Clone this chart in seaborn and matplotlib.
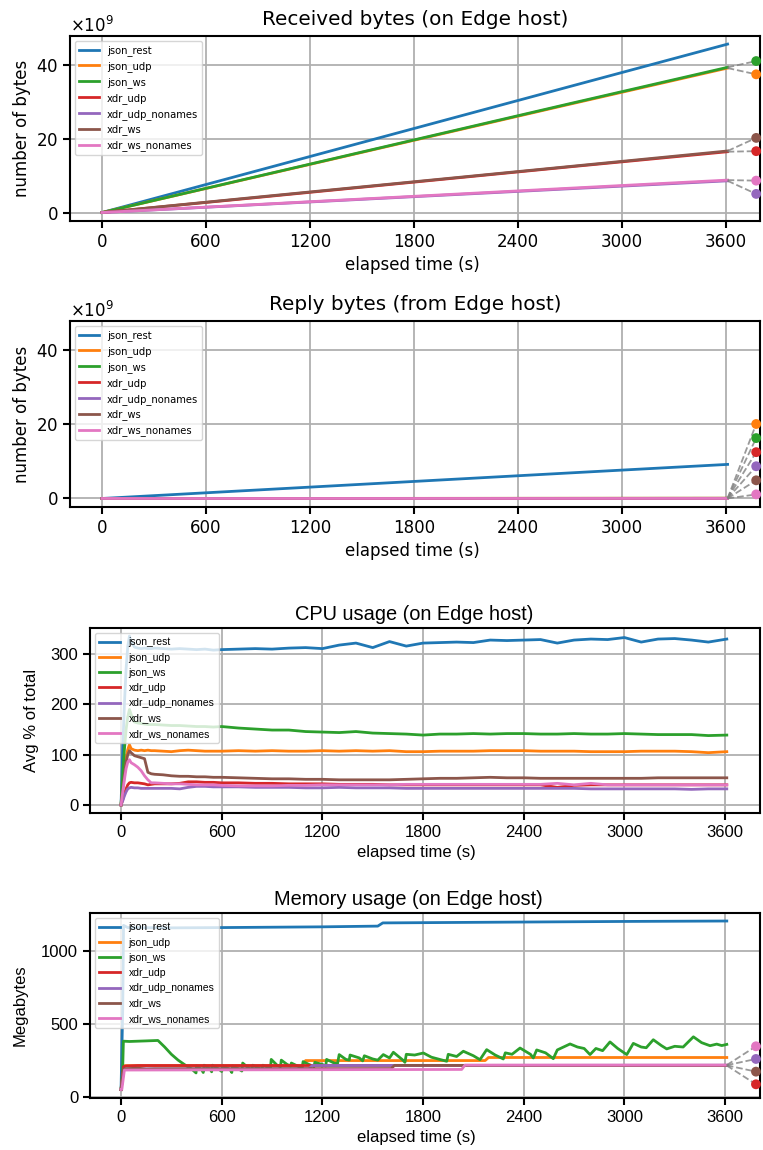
import numpy as np
import pandas as pd
import seaborn as sns
import matplotlib.pyplot as plt

# ---------------- data ----------------
SERIES = ['json_rest', 'json_udp', 'json_ws', 'xdr_udp',
          'xdr_udp_nonames', 'xdr_ws', 'xdr_ws_nonames']

# received / reply bytes (linear growth), sampled times
T_BYTES = [0, 900, 1800, 2700, 3610]
RECV = {
    'json_rest':       [0, 11.4e9, 22.8e9, 34.2e9, 45.7e9],
    'json_udp':        [0, 9.8e9, 19.6e9, 29.4e9, 39.2e9],
    'json_ws':         [0, 9.85e9, 19.7e9, 29.55e9, 39.4e9],
    'xdr_udp':         [0, 4.1e9, 8.25e9, 12.4e9, 16.5e9],
    'xdr_udp_nonames': [0, 2.15e9, 4.3e9, 6.45e9, 8.6e9],
    'xdr_ws':          [0, 4.2e9, 8.35e9, 12.5e9, 16.7e9],
    'xdr_ws_nonames':  [0, 2.2e9, 4.4e9, 6.6e9, 8.8e9],
}
REPLY = {
    'json_rest':       [0, 2.3e9, 4.6e9, 6.9e9, 9.2e9],
    'json_udp':        [0, 0.015e9, 0.03e9, 0.045e9, 0.06e9],
    'json_ws':         [0, 0.012e9, 0.025e9, 0.037e9, 0.05e9],
    'xdr_udp':         [0, 0.01e9, 0.02e9, 0.03e9, 0.04e9],
    'xdr_udp_nonames': [0, 0.008e9, 0.015e9, 0.022e9, 0.03e9],
    'xdr_ws':          [0, 0.005e9, 0.01e9, 0.015e9, 0.02e9],
    'xdr_ws_nonames':  [0, 0.002e9, 0.005e9, 0.007e9, 0.01e9],
}

T_CPU = [0, 10, 20, 30, 40, 50, 60, 80, 100, 120, 140, 160, 180, 200,
         250, 300, 350, 400, 450, 500, 550,
         600, 700, 800, 900, 1000, 1100, 1200, 1300, 1400, 1500, 1600,
         1700, 1800, 1900, 2000, 2100, 2200, 2300, 2400, 2500, 2600,
         2700, 2800, 2900, 3000, 3100, 3200, 3300, 3400, 3500, 3610]
CPU = {
    'json_rest': [0, 110, 200, 270, 315, 336, 325, 314, 312, 311, 312, 311, 311, 312,
                  311, 310, 311, 310, 309, 310, 308,
                  309, 310, 311, 310, 312, 313, 311, 318, 322, 313, 325,
                  316, 322, 323, 324, 323, 328, 327, 328, 329, 322,
                  328, 330, 329, 333, 324, 330, 331, 328, 324, 330],
    'json_udp': [0, 40, 70, 95, 110, 120, 112, 109, 108, 109, 108, 109, 108, 108,
                 107, 106, 108, 109, 108, 107, 107,
                 107, 108, 107, 108, 107, 107, 108, 107, 108, 107, 108,
                 106, 106, 107, 107, 107, 108, 108, 108, 107, 107,
                 107, 106, 106, 106, 107, 107, 107, 106, 104, 106],
    'json_ws': [0, 60, 110, 150, 175, 190, 180, 165, 163, 162, 161, 160, 160, 160,
                159, 158, 158, 157, 156, 156, 155,
                156, 153, 151, 149, 149, 146, 145, 144, 146, 143, 142,
                141, 139, 141, 141, 142, 141, 142, 142, 141, 141,
                142, 141, 141, 142, 141, 140, 140, 140, 138, 139],
    'xdr_udp': [0, 10, 22, 32, 40, 44, 45, 44, 44, 43, 42, 40, 41, 42,
                42, 42, 43, 46, 46, 45, 45,
                44, 44, 43, 43, 42, 42, 42, 41, 41, 41, 40,
                40, 40, 40, 40, 40, 40, 40, 40, 40, 35,
                39, 40, 40, 40, 40, 40, 40, 40, 40, 40],
    'xdr_udp_nonames': [0, 8, 18, 26, 32, 34, 35, 34, 34, 33, 33, 33, 33, 33,
                        33, 33, 32, 35, 37, 37, 36,
                        36, 36, 35, 35, 35, 34, 34, 35, 34, 34, 34,
                        33, 33, 33, 33, 33, 33, 33, 33, 33, 33,
                        33, 32, 32, 32, 32, 32, 32, 31, 32, 32],
    'xdr_ws': [0, 30, 60, 85, 100, 108, 104, 98, 96, 94, 92, 65, 62, 61,
               60, 58, 57, 57, 56, 56, 55,
               55, 54, 53, 52, 52, 51, 51, 50, 50, 50, 50,
               51, 52, 53, 53, 54, 55, 54, 54, 53, 53,
               53, 53, 53, 53, 53, 54, 54, 54, 54, 54],
    'xdr_ws_nonames': [0, 25, 50, 72, 85, 90, 84, 80, 75, 68, 58, 50, 44, 44,
                       43, 42, 42, 41, 40, 40, 40,
                       39, 38, 38, 38, 39, 39, 40, 40, 40, 40, 40,
                       41, 41, 41, 41, 41, 41, 41, 41, 41, 43,
                       40, 43, 40, 40, 40, 40, 40, 40, 40, 40],
}

# memory: each series has its own sample times (step changes)
MEM_T = {
    'json_rest': [0, 10, 15, 40, 300, 600, 1200, 1530, 1560, 2400, 3000, 3610],
    'json_udp': [0, 12, 20, 1080, 1100, 2170, 2190, 3610],
    'json_ws': [0, 10, 14, 50, 100, 150, 220, 260, 300, 340, 390, 420, 447, 450,
                480, 490, 495, 530, 540, 545, 580, 600, 605, 650, 660, 665, 700,
                720, 725, 760, 780, 785, 820, 840, 845, 880, 890, 895, 930, 950,
                955, 990, 1010, 1015, 1060, 1080, 1085, 1130, 1150, 1155, 1200,
                1220, 1225, 1270, 1290, 1300, 1340, 1360, 1365, 1420, 1440, 1450,
                1500, 1530, 1563, 1600, 1623, 1680, 1692, 1700, 1750, 1802, 1850,
                1941, 1950, 2000, 2040, 2100, 2139, 2179, 2230, 2278, 2290, 2330,
                2378, 2440, 2457, 2477, 2530, 2576, 2600, 2676, 2720, 2760, 2795,
                2830, 2870, 2914, 2960, 3014, 3053, 3100, 3130, 3172, 3220, 3252,
                3300, 3350, 3411, 3460, 3510, 3550, 3580, 3610],
    'xdr_udp': [0, 15, 30, 100, 3610],
    'xdr_udp_nonames': [0, 15, 30, 1120, 1140, 3610],
    'xdr_ws': [0, 15, 100, 150, 200, 1610, 1630, 3610],
    'xdr_ws_nonames': [0, 5, 20, 2030, 2050, 3610],
}
MEM = {
    'json_rest': [48, 600, 1175, 1160, 1158, 1160, 1165, 1170, 1192, 1198, 1202, 1205],
    'json_udp': [48, 150, 212, 212, 247, 247, 268, 268],
    'json_ws': [48, 200, 380, 378, 380, 382, 385, 340, 290, 250, 210, 190, 162, 210,
                185, 165, 215, 190, 170, 215, 190, 172, 212, 185, 165, 210, 190,
                175, 230, 195, 185, 215, 195, 185, 215, 200, 190, 255, 215, 205,
                250, 220, 210, 230, 205, 200, 240, 215, 205, 235, 220,
                210, 255, 230, 225, 288, 255, 250, 285, 265, 245, 280,
                258, 250, 288, 265, 304, 250, 235, 290, 285, 299, 270,
                242, 290, 275, 311, 280, 253, 322, 285, 258, 300, 290,
                333, 290, 265, 320, 300, 260, 320, 361, 340, 330, 288,
                330, 315, 375, 330, 288, 365, 340, 335, 390, 350, 327,
                345, 340, 410, 370, 349, 360, 350, 358],
    'xdr_udp': [48, 205, 210, 213, 213],
    'xdr_udp_nonames': [48, 180, 190, 190, 213, 215],
    'xdr_ws': [48, 190, 195, 188, 190, 192, 214, 214],
    'xdr_ws_nonames': [48, 50, 182, 186, 216, 216],
}


def long_df(times, values):
    rows = []
    for s in SERIES:
        t = times[s] if isinstance(times, dict) else times
        rows.append(pd.DataFrame({'time': t, 'value': values[s], 'series': s}))
    return pd.concat(rows, ignore_index=True)


def end_markers(ax, df, x_mark, gap, thresh, lo, sep, colors):
    # spread markers for line ends that overlap each other
    ends = df.sort_values('time').groupby('series').last()
    ends = ends.sort_values('value')
    names = list(ends.index)
    groups, cur = [], [names[0]]
    for a, b in zip(names[:-1], names[1:]):
        if ends.loc[b, 'value'] - ends.loc[a, 'value'] < thresh:
            cur.append(b)
        else:
            groups.append(cur)
            cur = [b]
    groups.append(cur)
    groups = [g for g in groups if len(g) > 1]
    placed = []
    for g in groups:
        center = ends.loc[g, 'value'].mean()
        pos = [center + (i - (len(g) - 1) / 2) * gap for i in range(len(g))]
        if pos[0] < lo:
            pos = [p + lo - pos[0] for p in pos]
        placed.append(pos)
    # keep neighbouring groups of markers apart
    for i in range(len(placed) - 1):
        over = sep - (placed[i + 1][0] - placed[i][-1])
        if over > 0:
            placed[i] = [p - over / 2 for p in placed[i]]
            placed[i + 1] = [p + over / 2 for p in placed[i + 1]]
    for g, pos in zip(groups, placed):
        for s, p in zip(g, pos):
            ax.plot([ends.loc[s, 'time'], x_mark], [ends.loc[s, 'value'], p],
                    ls='--', color='gray', lw=1.3, alpha=0.8, zorder=3)
            ax.scatter([x_mark], [p], s=50, color=colors[s], zorder=4,
                       clip_on=False, edgecolors='none')


# ---------------- plot ----------------
plt.rcParams['font.family'] = ['DejaVu Sans']
plt.rcParams['axes.linewidth'] = 1.5
plt.rcParams['xtick.major.width'] = 1.5
plt.rcParams['ytick.major.width'] = 1.5
plt.rcParams['xtick.major.size'] = 5
plt.rcParams['ytick.major.size'] = 5

palette = dict(zip(SERIES, sns.color_palette('tab10', len(SERIES))))
W, H = 763, 1150
fig = plt.figure(figsize=(W / 100, H / 100), dpi=100)


def make_ax(left, top, bottom, right=760):
    return fig.add_axes([left / W, 1 - bottom / H, (right - left) / W, (bottom - top) / H])


panels = [
    dict(df=long_df(T_BYTES, RECV), box=(70, 36, 221), title='Received bytes (on Edge host)',
         ylabel='number of bytes', font='DejaVu Sans', tsize=14.4, tx=0.5, tpad=8, lx=0.496,
         lpad=4, lsize=7.2, xlim=(-185, 3797), ylim=(-2.3e9, 47.9e9), sci=True,
         marks=dict(x=3775, gap=3.6e9, thresh=2e9, lo=-1e12, sep=8e9)),
    dict(df=long_df(T_BYTES, REPLY), box=(70, 321, 507), title='Reply bytes (from Edge host)',
         ylabel='number of bytes', font='DejaVu Sans', tsize=14.4, tx=0.5, tpad=8, lx=0.496,
         lpad=4, lsize=7.2, xlim=(-185, 3797), ylim=(-2.3e9, 47.9e9), sci=True,
         marks=dict(x=3775, gap=3.8e9, thresh=2e9, lo=1.1e9, sep=0)),
    dict(df=long_df(T_CPU, CPU), box=(90, 628, 813), title='CPU usage (on Edge host)',
         ylabel='Avg % of total', font='Liberation Sans', tsize=14.4, tx=0.484, tpad=6,
         lx=0.487, lpad=8, lsize=7.5, xlim=(-185, 3808), ylim=(-16, 352), sci=False,
         marks=None),
    dict(df=long_df(MEM_T, MEM), box=(90, 913, 1098), title='Memory usage (on Edge host)',
         ylabel='Megabytes', font='Liberation Sans', tsize=14.4, tx=0.475, tpad=6,
         lx=0.487, lpad=10, lsize=7.5, xlim=(-185, 3808), ylim=(-10, 1260), sci=False,
         marks=dict(x=3784, gap=87, thresh=20, lo=-1e9, sep=0)),
]

for p in panels:
    ax = make_ax(*p['box'])
    sns.lineplot(data=p['df'], x='time', y='value', hue='series', hue_order=SERIES,
                 palette=palette, estimator=None, errorbar=None, linewidth=2, ax=ax)
    fam = p['font']
    ax.set_xlim(*p['xlim'])
    ax.set_ylim(*p['ylim'])
    ax.set_xticks([0, 600, 1200, 1800, 2400, 3000, 3600])
    ax.grid(True, color='#b0b0b0', lw=1.3)
    ax.set_axisbelow(True)
    ax.set_title(p['title'], fontsize=p['tsize'], family=fam, pad=p['tpad'], x=p['tx'])
    ax.set_xlabel('elapsed time (s)', fontsize=12, family=fam, x=p['lx'])
    ax.set_ylabel(p['ylabel'], fontsize=12, family=fam, labelpad=p['lpad'])
    ax.tick_params(labelsize=12, labelfontfamily=fam)
    if p['sci']:
        ax.set_yticks([0, 20e9, 40e9])
        ax.ticklabel_format(axis='y', style='sci', scilimits=(9, 9), useMathText=True)
        ax.yaxis.get_offset_text().set_fontsize(12)
    if p['marks']:
        m = p['marks']
        end_markers(ax, p['df'], m['x'], m['gap'], m['thresh'], m['lo'], m['sep'], palette)
    sns.move_legend(ax, 'upper left', title=None, prop={'family': fam, 'size': p['lsize']})

fig.savefig('out.png', dpi=100)
